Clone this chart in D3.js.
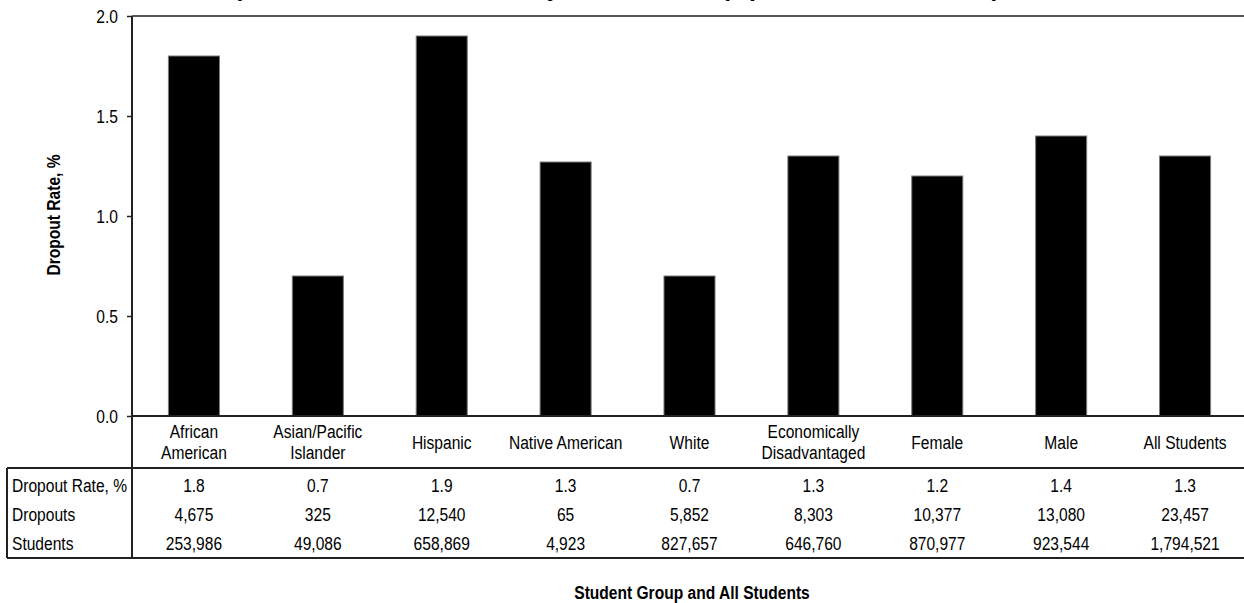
<!DOCTYPE html>
<html>
<head>
<meta charset="utf-8">
<script src="https://cdn.jsdelivr.net/npm/d3@7"></script>
<style>
  html, body { margin: 0; padding: 0; background: #fff; }
  svg { display: block; }
  text { font-family: "Liberation Sans", Arial, sans-serif; fill: #000; }
</style>
</head>
<body>
<svg id="chart" width="1244" height="603"></svg>
<script>
// ---- Data ----
const categories = [
  ["African", "American"],
  ["Asian/Pacific", "Islander"],
  ["Hispanic"],
  ["Native American"],
  ["White"],
  ["Economically", "Disadvantaged"],
  ["Female"],
  ["Male"],
  ["All Students"]
];
const barValues = [1.8, 0.7, 1.9, 1.27, 0.7, 1.3, 1.2, 1.4, 1.3];
const rateLabels = ["1.8", "0.7", "1.9", "1.3", "0.7", "1.3", "1.2", "1.4", "1.3"];
const dropouts = ["4,675", "325", "12,540", "65", "5,852", "8,303", "10,377", "13,080", "23,457"];
const students = ["253,986", "49,086", "658,869", "4,923", "827,657", "646,760", "870,977", "923,544", "1,794,521"];
const rowLabels = ["Dropout Rate, %", "Dropouts", "Students"];
const yTicks = [0, 0.5, 1.0, 1.5, 2.0];
const titleText = "Annual Dropout Rates, Grades 7-12, by Student Group (1999-00 School Year)";
const yTitle = "Dropout Rate, %";
const xTitle = "Student Group and All Students";

// ---- Layout ----
const svg = d3.select("#chart");
const plotLeft = 132, plotRight = 1247, plotTop = 16, plotBottom = 416;
const tableTop = 468, tableBottom = 558, tableLeft = 7, W = 1244;
const rowY = [486, 515, 544];
const NARROW = 0.82;   // horizontal squeeze to mimic a narrow face
const FS = 19;

const keys = categories.map((c, i) => i);
const x = d3.scaleBand().domain(keys).range([plotLeft, plotRight])
  .paddingInner(0.588).paddingOuter(0.294);
const y = d3.scaleLinear().domain([0, 2]).range([plotBottom, plotTop]);

// narrow text helper
function ntext(parent, tx, ty, str, anchor, opts = {}) {
  const g = parent.append("g")
    .attr("transform", `translate(${tx},${ty})${opts.rotate ? ` rotate(${opts.rotate})` : ""} scale(${NARROW},1)`);
  return g.append("text")
    .attr("x", 0).attr("y", 0).attr("dy", "0.35em")
    .attr("text-anchor", anchor)
    .style("font-size", (opts.size || FS) + "px")
    .style("font-weight", opts.bold ? "bold" : "normal")
    .text(str);
}

// Title (mostly cut off at the top, as in the reference)
svg.append("g").attr("transform", `translate(104,-5) scale(${NARROW},1)`)
  .append("text").attr("x", 0).attr("y", 0)
  .style("font-weight", "bold").style("font-size", "30px")
  .text(titleText);

// Bars
svg.append("g").selectAll("rect").data(barValues).join("rect")
  .attr("x", (d, i) => x(i))
  .attr("width", x.bandwidth())
  .attr("y", d => y(d))
  .attr("height", d => y(0) - y(d))
  .attr("fill", "#000")
  .attr("stroke", "#7a7a7a")
  .attr("stroke-width", 1);

// Y axis
const yAxis = svg.append("g").attr("transform", `translate(${plotLeft},0)`)
  .call(d3.axisLeft(y).tickValues(yTicks).tickFormat(d3.format(".1f")).tickSize(5).tickPadding(8));
yAxis.select(".domain").remove();
yAxis.selectAll(".tick line").attr("stroke", "#222").attr("stroke-width", 1.5);
yAxis.selectAll(".tick text").remove();
yAxis.selectAll(".tick").each(function(d) {
  ntext(d3.select(this), -14, 0, d3.format(".1f")(d), "end");
});

// Frame lines
const lineColor = "#222";
function hline(yy, x1, x2, w) {
  svg.append("line").attr("x1", x1).attr("x2", x2).attr("y1", yy).attr("y2", yy)
    .attr("stroke", lineColor).attr("stroke-width", w);
}
function vline(xx, y1, y2, w) {
  svg.append("line").attr("x1", xx).attr("x2", xx).attr("y1", y1).attr("y2", y2)
    .attr("stroke", lineColor).attr("stroke-width", w);
}
hline(plotTop, plotLeft, W, 1.5);
hline(y(0), plotLeft, W, 2);
vline(plotLeft, plotTop, tableBottom, 2);
hline(tableTop, tableLeft, W, 2);
hline(tableBottom, tableLeft, W, 2);
vline(tableLeft, tableTop, tableBottom, 2);

// Category labels
const catG = svg.append("g");
categories.forEach((lines, i) => {
  const cx = x(i) + x.bandwidth() / 2;
  if (lines.length === 1) {
    ntext(catG, cx, 442, lines[0], "middle");
  } else {
    ntext(catG, cx, 431, lines[0], "middle");
    ntext(catG, cx, 452, lines[1], "middle");
  }
});

// Data table
const rows = [rateLabels, dropouts, students];
const tableG = svg.append("g");
rowLabels.forEach((lab, r) => {
  ntext(tableG, 12, rowY[r] - 1, lab, "start");
  rows[r].forEach((v, i) => {
    ntext(tableG, x(i) + x.bandwidth() / 2, rowY[r] - 1, v, "middle");
  });
});

// Axis titles
ntext(svg, 53, 215, yTitle, "middle", { bold: true, rotate: -90 });
ntext(svg, 692, 592, xTitle, "middle", { bold: true });
</script>
</body>
</html>
